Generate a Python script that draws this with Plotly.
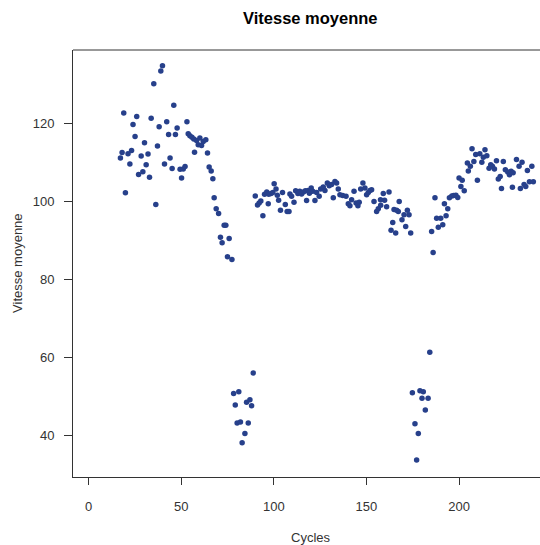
import plotly.graph_objects as go

# Phase 1: start of trial
cycles_a = [17.2, 18.1, 19.0, 19.9, 21.3, 22.3, 23.2, 24.0, 25.1, 26.0, 27.0, 28.4, 29.3, 30.2,
            31.1, 32.1, 32.9, 33.8, 35.2, 36.3, 37.2, 38.1, 39.0, 39.9, 41.0, 42.2, 43.2, 44.0,
            45.1, 46.0, 46.9, 47.8, 49.4, 50.2, 51.1, 52.1, 53.1, 53.8, 54.7, 55.8, 56.8, 57.2,
            58.3, 59.2, 60.1, 61.0, 61.9, 63.3, 64.2, 65.1, 66.2, 67.1, 67.8, 68.9, 70.2, 71.2,
            72.1, 73.2, 74.1, 75.0, 75.9, 77.4]
vitesse_a = [111.1, 112.5, 122.6, 102.2, 112.2, 109.6, 113.0, 119.7, 116.6, 121.7, 106.9, 111.6,
             107.6, 115.0, 109.4, 112.1, 106.2, 121.3, 130.1, 99.2, 114.2, 119.1, 133.4, 134.7,
             109.6, 120.4, 117.1, 111.1, 108.4, 124.6, 117.1, 118.8, 108.2, 106.0, 108.3, 108.9,
             120.4, 117.3, 116.8, 116.4, 116.0, 112.6, 115.6, 114.5, 116.2, 114.3, 115.3, 115.8,
             112.4, 108.8, 107.8, 105.8, 100.9, 98.1, 96.9, 90.8, 89.4, 93.9, 93.9, 85.8, 90.5, 85.1]

# Phase 2: first drop
cycles_b = [78.3, 79.2, 80.2, 81.1, 82.0, 82.9, 84.4, 85.3, 86.2, 87.1, 88.0, 88.9]
vitesse_b = [50.8, 47.9, 43.3, 51.3, 43.5, 38.2, 40.6, 48.6, 43.3, 49.2, 47.7, 56.1]

# Phase 3: plateau
cycles_c = [90.0, 91.2, 92.1, 93.0, 94.1, 95.0, 96.2, 97.0, 97.3, 98.5, 99.5, 100.2, 101.2, 101.9,
            102.6, 103.6, 104.7, 106.2, 107.2, 108.2, 108.7, 109.6, 110.9, 111.8, 113.0, 114.0,
            115.0, 116.0, 117.0, 117.7, 118.5, 119.2, 120.2, 121.0, 122.2, 123.1, 124.5, 125.3,
            126.7, 127.6, 128.9, 129.9, 131.2, 132.1, 133.0, 133.9, 134.8, 135.7, 137.2, 139.0,
            140.2, 141.1, 142.0, 143.3, 144.4, 145.4, 146.1, 146.9, 148.1, 149.2, 150.1, 151.0,
            151.9, 152.8, 154.1, 155.5, 156.4, 157.6, 157.7, 159.1, 159.8, 160.9, 162.2, 163.3,
            164.2, 164.9, 165.8, 166.3, 167.2, 167.7, 169.2, 170.3, 171.2, 172.1, 173.0, 173.9]
vitesse_c = [101.4, 99.1, 99.6, 100.1, 96.3, 101.8, 102.4, 99.4, 101.8, 102.0, 102.3, 104.5, 103.2,
             101.6, 100.3, 97.7, 102.3, 99.2, 97.4, 97.4, 101.9, 101.3, 99.8, 102.7, 102.0, 102.6,
             101.9, 102.4, 102.7, 100.2, 102.8, 102.1, 103.4, 102.6, 100.2, 102.3, 101.3, 103.2,
             103.7, 102.8, 104.7, 104.0, 104.3, 100.9, 105.1, 104.7, 103.2, 101.7, 101.5, 101.3,
             99.4, 98.9, 100.4, 102.6, 99.6, 98.9, 99.8, 103.2, 104.7, 103.4, 101.7, 102.3,
             102.8, 103.0, 100.0, 97.4, 98.1, 100.4, 99.0, 102.0, 100.3, 98.6, 102.4, 92.6,
             94.6, 97.9, 91.9, 97.7, 97.4, 100.0, 95.3, 96.6, 93.6, 97.7, 96.6, 91.9]

# Phase 4: second drop
cycles_d = [174.8, 176.2, 177.1, 178.0, 178.9, 180.0, 180.7, 181.8, 183.3, 184.2]
vitesse_d = [51.0, 43.1, 33.8, 40.6, 51.5, 49.6, 51.3, 46.6, 49.6, 61.4]

# Phase 5: recovery
cycles_e = [185.2, 186.0, 187.0, 187.9, 188.8, 190.1, 191.2, 192.1, 193.0, 193.9, 194.8, 196.1,
            197.1, 198.3, 199.3, 200.0, 201.0, 201.7, 202.8, 204.5, 205.0, 206.1, 207.0, 208.0,
            209.0, 209.9, 211.2, 212.3, 213.1, 214.0, 215.0, 216.2, 217.1, 218.0, 219.1, 220.2,
            221.2, 222.2, 222.9, 223.9, 225.0, 226.3, 227.2, 228.1, 228.8, 229.2, 231.0, 232.4,
            233.1, 234.0, 235.1, 236.0, 236.9, 238.0, 239.3, 240.1]
vitesse_e = [92.3, 86.9, 100.9, 95.7, 93.4, 95.7, 94.0, 99.4, 96.3, 98.1, 100.9, 101.4,
             101.5, 101.6, 101.0, 106.0, 103.8, 105.4, 102.7, 109.8, 107.8, 109.0, 113.5, 110.2,
             112.0, 105.4, 112.2, 110.0, 111.3, 113.2, 111.7, 108.5, 109.4, 109.0, 108.3, 110.4,
             105.7, 106.4, 103.3, 110.2, 108.1, 107.5, 106.8, 107.7, 103.6, 107.3, 110.7, 109.0,
             103.3, 110.0, 104.3, 103.8, 107.9, 105.0, 109.0, 105.0]

x_ticks = [0, 50, 100, 150, 200]
y_ticks = [40, 60, 80, 100, 120]

cycles = cycles_a + cycles_b + cycles_c + cycles_d + cycles_e
vitesse = vitesse_a + vitesse_b + vitesse_c + vitesse_d + vitesse_e

FONT = "Liberation Sans, Arial, sans-serif"
AX = "#333333"

fig = go.Figure(go.Scatter(
    x=cycles, y=vitesse, mode="markers",
    marker=dict(color="#27408B", size=5.5, line=dict(width=0)),
    hoverinfo="x+y",
))

W, H = 540, 545
# plot box in page pixels
PL, PT, PB = 73.3, 49.5, 477
L, T, R = PL, PT, 0
B = H - PB
pw = W - L - R
ph = H - T - B


def px_x(page_x):
    return (page_x - PL) / pw


def px_y(page_y):
    return (PB - page_y) / ph


fig.update_layout(
    width=W, height=H,
    margin=dict(l=L, r=R, t=T, b=B, autoexpand=False),
    paper_bgcolor="white", plot_bgcolor="white",
    showlegend=False,
    font=dict(family=FONT, size=13, color=AX),
    xaxis=dict(range=[-8.4, 243.7], tickvals=x_ticks, ticks="outside", ticklen=7,
               tickcolor=AX, showline=True, linecolor=AX, linewidth=1, showgrid=False,
               zeroline=False, automargin=False, ticklabelstandoff=10,
               tickfont=dict(family=FONT, size=13, color=AX)),
    yaxis=dict(range=[29.45, 138.75], tickvals=y_ticks, ticks="outside", ticklen=8,
               tickcolor=AX, showline=True, linecolor=AX, linewidth=1, showgrid=False,
               zeroline=False, automargin=False, ticklabelstandoff=7,
               tickfont=dict(family=FONT, size=13, color=AX)),
    shapes=[dict(type="line", xref="paper", yref="paper", x0=0, x1=1, y0=1, y1=1,
                 line=dict(color=AX, width=1))],
    annotations=[
        dict(text="<b>Vitesse moyenne</b>", xref="paper", yref="paper",
             x=px_x(311), y=px_y(17), showarrow=False,
             xanchor="center", yanchor="middle",
             font=dict(family=FONT, size=16.5, color="black")),
        dict(text="Cycles", xref="paper", yref="paper",
             x=px_x(311), y=px_y(538), showarrow=False,
             xanchor="center", yanchor="middle",
             font=dict(family=FONT, size=13, color=AX)),
        dict(text="Vitesse moyenne", xref="paper", yref="paper",
             x=px_x(18), y=px_y(263), showarrow=False, textangle=-90,
             xanchor="center", yanchor="middle",
             font=dict(family=FONT, size=13, color=AX)),
    ],
)

fig.write_html(
    "out.html",
    config={"displayModeBar": False},
    post_script="document.body.style.margin='0';document.body.style.overflow='hidden';",
)
